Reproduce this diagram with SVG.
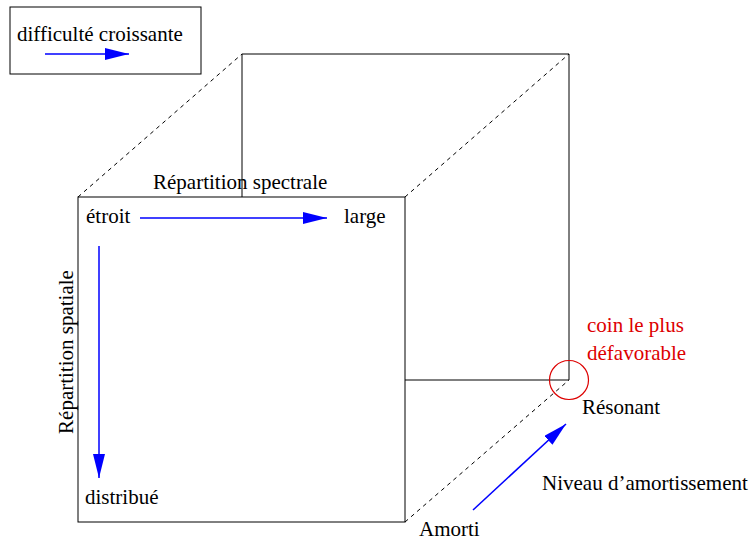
<svg xmlns="http://www.w3.org/2000/svg" width="752" height="544" viewBox="0 0 752 544">
<defs>
<style>
text{font-family:"Liberation Serif","Times New Roman",serif;font-size:21px;fill:#000}
.edge{fill:none;stroke:#000;stroke-width:1}
.hid{fill:none;stroke:#000;stroke-width:1;stroke-dasharray:4 4}
.arr{fill:none;stroke:#0000ff;stroke-width:1.5}
.red{fill:#dd0000}
</style>
<marker id="ah" viewBox="0 0 24 12" refX="24" refY="6" markerWidth="24" markerHeight="12" markerUnits="userSpaceOnUse" orient="auto">
<path d="M0,0 L24,6 L0,12 Z" fill="#0000ff"/>
</marker>
</defs>
<rect width="752" height="544" fill="#fff"/>
<g id="legend">
<rect x="10" y="7" width="191" height="67" class="edge"/>
<text x="17" y="41">difficulté croissante</text>
<line x1="45" y1="54" x2="129" y2="54" class="arr" marker-end="url(#ah)"/>
</g>
<g id="connectors">
<line x1="78" y1="197" x2="242" y2="54" class="hid"/>
<line x1="405" y1="197" x2="569" y2="54" class="hid"/>
<line x1="405" y1="522" x2="569" y2="380" class="hid"/>
<line x1="140" y1="218" x2="327" y2="218" class="arr" marker-end="url(#ah)"/>
<line x1="99" y1="246" x2="99" y2="478" class="arr" marker-end="url(#ah)"/>
<line x1="473" y1="510" x2="566" y2="424" class="arr" marker-end="url(#ah)"/>
</g>
<g id="back-face">
<polyline points="242,197 242,54 569,54 569,380 405,380" class="edge"/>
</g>
<g id="front-face">
<rect x="78" y="197" width="327" height="325" class="edge"/>
</g>
<g id="labels">
<text x="153" y="189">Répartition spectrale</text>
<text x="86" y="223">étroit</text>
<text x="344" y="223">large</text>
<text transform="translate(73,352) rotate(-90)" text-anchor="middle">Répartition spatiale</text>
<text x="85" y="504">distribué</text>
<text x="582" y="414">Résonant</text>
<text x="542" y="490">Niveau d’amortissement</text>
<text x="419" y="536">Amorti</text>
</g>
<g id="worst-corner">
<circle cx="569" cy="380" r="19.5" fill="none" stroke="#dd0000" stroke-width="1.2"/>
<text x="587" y="332" class="red">coin le plus</text>
<text x="587" y="360" class="red">défavorable</text>
</g>
</svg>
